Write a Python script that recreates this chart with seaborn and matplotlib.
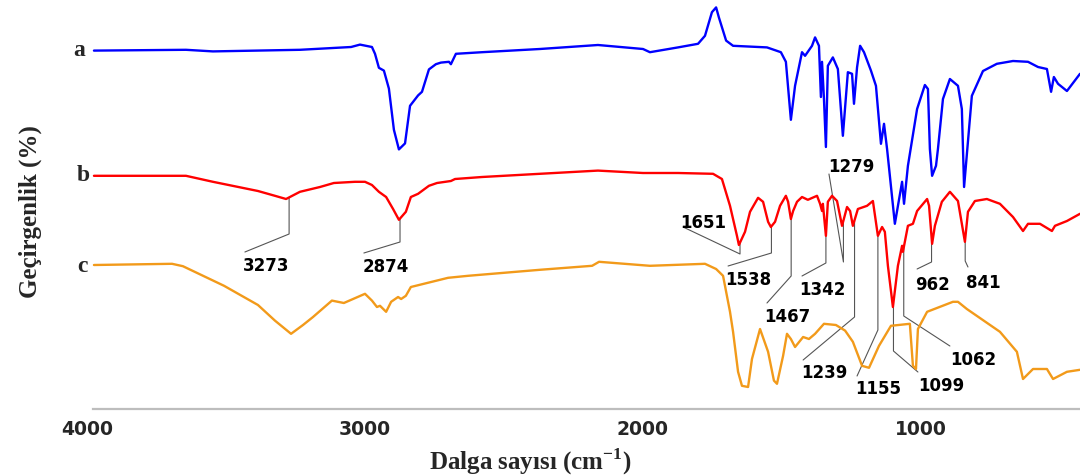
import numpy as np
import pandas as pd
import matplotlib
matplotlib.use("Agg")
import matplotlib.pyplot as plt
import seaborn as sns

# ---------------- data ----------------
wn_a = [3975, 3644, 3547, 3234, 3050, 3018, 2975, 2964, 2950, 2932, 2914, 2896, 2878, 2856, 2838,
        2809, 2795, 2770, 2745, 2727, 2698, 2691, 2673, 2579, 2371, 2162, 2000, 1975, 1874, 1802,
        1777, 1752, 1737, 1727, 1701, 1676, 1554, 1504, 1486, 1468, 1453, 1428, 1417, 1392, 1381,
        1367, 1360, 1356, 1349, 1342, 1335, 1317, 1299, 1281, 1263, 1248, 1241, 1230, 1219, 1205,
        1180, 1162, 1144, 1133, 1122, 1094, 1068, 1061, 1047, 1014, 986, 975, 968, 960, 946,
        939, 921, 896, 867, 853, 845, 817, 777, 727, 669, 615, 579, 547, 532, 522, 507, 475, 428]
t_a = [89.6, 89.8, 89.4, 89.8, 90.5, 91.1, 90.5, 88.8, 85.3, 84.6, 80.1, 69.8, 64.9, 66.4, 75.8,
       78.4, 79.3, 84.9, 86.2, 86.6, 86.8, 86.2, 88.8, 89.2, 90.0, 91.0, 90.0, 89.2, 90.4, 91.3,
       93.3, 99.2, 100.4, 97.9, 92.1, 90.8, 90.4, 89.2, 86.8, 72.3, 80.8, 89.2, 88.3, 90.8, 92.9,
       90.8, 78.0, 86.8, 77.5, 65.5, 85.8, 87.9, 85.0, 68.3, 84.2, 83.8, 76.3, 85.4, 90.8, 89.2,
       84.6, 80.8, 66.3, 71.3, 65.0, 46.3, 56.8, 51.3, 60.8, 75.0, 81.0, 80.0, 65.0, 58.3, 60.8,
       65.0, 77.5, 82.5, 80.8, 75.0, 55.5, 78.3, 84.5, 86.3, 87.0, 86.8, 85.5, 85.0, 79.3, 83.0,
       81.3, 79.5, 83.8]

wn_b = [3975, 3644, 3547, 3385, 3324, 3284, 3234, 3162, 3112, 3036, 3000, 2975, 2950, 2924, 2899,
        2878, 2853, 2835, 2809, 2770, 2741, 2691, 2676, 2579, 2371, 2162, 2000, 1874, 1748, 1716,
        1687, 1662, 1655, 1633, 1615, 1586, 1568, 1550, 1540, 1525, 1507, 1486, 1478, 1468, 1460,
        1446, 1428, 1407, 1374, 1363, 1356, 1353, 1342, 1335, 1320, 1302, 1284, 1266, 1255, 1245,
        1227, 1194, 1173, 1155, 1140, 1130, 1119, 1101, 1083, 1068, 1065, 1047, 1029, 1014, 978,
        971, 960, 950, 925, 896, 867, 842, 831, 806, 763, 716, 669, 633, 615, 572, 529, 518, 475, 428]
t_b = [58.3, 58.3, 56.8, 54.5, 53.3, 52.5, 54.3, 55.5, 56.5, 56.8, 56.8, 56.0, 54.3, 53.0, 50.0,
       47.3, 49.3, 53.0, 53.8, 55.8, 56.5, 57.0, 57.5, 58.0, 58.8, 59.6, 59.0, 59.0, 58.8, 57.5,
       50.8, 43.3, 41.0, 44.3, 49.3, 52.8, 51.8, 46.8, 45.5, 46.8, 50.8, 53.3, 51.8, 47.5, 49.5,
       51.8, 53.0, 52.3, 53.3, 51.3, 49.5, 51.3, 43.3, 51.8, 53.3, 52.0, 45.8, 50.5, 49.5, 45.8,
       50.0, 50.8, 52.0, 43.3, 45.5, 44.3, 35.8, 25.5, 35.8, 40.8, 39.3, 45.8, 46.3, 49.5, 52.5,
       50.8, 41.3, 45.8, 51.8, 54.3, 52.0, 41.8, 49.3, 52.0, 52.5, 51.3, 48.0, 44.5, 46.3, 46.3,
       44.5, 45.8, 47.0, 48.8]

wn_c = [3975, 3694, 3655, 3507, 3385, 3324, 3266, 3223, 3187, 3119, 3076, 3000, 2975, 2957, 2946,
        2924, 2906, 2881, 2870, 2853, 2835, 2701, 2629, 2371, 2183, 2158, 1975, 1777, 1737, 1712,
        1687, 1676, 1658, 1644, 1622, 1608, 1579, 1550, 1529, 1518, 1496, 1482, 1468, 1453, 1424,
        1403, 1381, 1349, 1306, 1273, 1245, 1212, 1187, 1151, 1108, 1040, 1029, 1018, 1011, 978,
        885, 867, 835, 716, 655, 633, 597, 547, 525, 475, 428]
t_c = [36.0, 36.3, 35.7, 30.8, 26.0, 22.1, 18.8, 21.0, 23.0, 27.1, 26.5, 28.8, 27.1, 25.5, 25.8,
       24.3, 26.8, 28.0, 27.5, 28.3, 30.5, 32.8, 33.3, 34.8, 35.8, 36.8, 35.8, 36.3, 35.0, 33.3,
       24.3, 19.3, 9.3, 5.8, 5.5, 12.5, 20.0, 14.3, 7.1, 6.3, 13.3, 18.8, 17.5, 15.5, 18.0,
       17.5, 18.8, 21.3, 21.0, 19.6, 16.8, 10.8, 10.3, 15.8, 20.8, 21.3, 10.8, 10.0, 20.0, 24.3,
       26.8, 26.8, 25.0, 19.3, 14.3, 7.5, 10.0, 10.0, 7.5, 9.3, 9.8]

sample_names = ["a", "b", "c"]
peak_labels = [3273, 2874, 1651, 1538, 1467, 1342, 1279, 1239, 1155, 1099, 1062, 962, 841]
x_ticks = [4000, 3000, 2000, 1000]
x_tick_labels = ["4000", "3000", "2000", "1000"]
x_label = r"Dalga sayısı (cm$^{\mathbf{-1}}$)"
y_label = "Geçirgenlik (%)"

# ---------------- layout / style ----------------
colors = {"a": "#0000FF", "b": "#FF0000", "c": "#F29A1A"}
# leader geometry per peak: knee y, end (x, y), text (x, y)
leader_layout = {
    3273: (43.75, 3432, 39.25, 3356, 36.0),
    2874: (41.75, 3004, 39.0, 2925, 35.75),
    1651: (38.75, 1856, 45.5, 1784, 46.75),
    1538: (39.0, 1694, 35.75, 1622, 32.5),
    1467: (33.25, 1554, 26.5, 1482, 23.25),
    1342: (36.5, 1428, 33.25, 1353, 30.0),
    1279: (36.75, 1331, 58.75, 1252, 60.75),
    1239: (23.0, 1424, 12.25, 1349, 9.25),
    1155: (19.75, 1230, 8.25, 1155, 5.25),
    1099: (14.5, 1011, 9.25, 928, 6.0),
    1062: (23.25, 896, 15.75, 813, 12.5),
    962: (36.75, 1014, 35.0, 960, 31.25),
    841: (37.0, 831, 35.5, 777, 31.75),
}
name_pos = {"a": (4029, 89.75), "b": (4014, 58.5), "c": (4018, 36.0)}

sns.set_style("white")
plt.rcParams["mathtext.fontset"] = "custom"
plt.rcParams["mathtext.rm"] = "Liberation Serif:bold"
plt.rcParams["mathtext.bf"] = "Liberation Serif:bold"

df = pd.concat([
    pd.DataFrame({"wavenumber": wn_a, "T": t_a, "sample": "a"}),
    pd.DataFrame({"wavenumber": wn_b, "T": t_b, "sample": "b"}),
    pd.DataFrame({"wavenumber": wn_c, "T": t_c, "sample": "c"}),
], ignore_index=True)

fig = plt.figure(figsize=(10.8, 4.77), dpi=100)
ax = fig.add_axes([87 / 1080, 67 / 477, 993 / 1080, 410 / 477])

sns.lineplot(data=df, x="wavenumber", y="T", hue="sample", palette=colors,
             estimator=None, sort=False, legend=False, linewidth=1.7, ax=ax, zorder=3)

ax.set_xlim(4000, 428)
ax.set_ylim(0, 102.5)

# peak annotations on curve b
wb = np.array(wn_b)[::-1]
tb = np.array(t_b)[::-1]
for p in peak_labels:
    ky, ex, ey, tx, ty = leader_layout[p]
    y0 = np.interp(p, wb, tb)
    ax.plot([p, p, ex], [y0, ky, ey], color="#555555", lw=0.8, zorder=2)
    ax.text(tx, ty, str(p), ha="center", va="center", fontsize=12,
            fontweight="bold", family="DejaVu Sans", color="black")

for n in sample_names:
    x, y = name_pos[n]
    ax.text(x, y, n, ha="center", va="center", fontsize=17, fontweight="bold",
            family="Liberation Serif", clip_on=False)

# axes styling
for s in ["left", "right", "top"]:
    ax.spines[s].set_visible(False)
ax.spines["bottom"].set_color("#bdbdbd")
ax.spines["bottom"].set_linewidth(1.6)
ax.spines["bottom"].set_bounds(3978, 428)
ax.set_yticks([])
ax.set_xticks(x_ticks)
ax.set_xticklabels(x_tick_labels)
ax.set_xticks(np.arange(3800, 428, -200), minor=True)
ax.tick_params(axis="x", which="major", length=0, pad=7)
ax.tick_params(axis="x", which="minor", length=4, width=0.9, direction="inout", color="#444444")
for lab in ax.get_xticklabels():
    lab.set_fontfamily("DejaVu Sans")
    lab.set_fontweight("bold")
    lab.set_fontsize(13.5)

ax.set_xlabel(x_label, fontsize=18, fontweight="bold", family="Liberation Serif")
ax.xaxis.set_label_coords((530 - 87) / 993, (410 - 462) / 410)
ax.xaxis.label.set_va("center")
ax.set_ylabel(y_label, fontsize=18, fontweight="bold", family="Liberation Serif")
ax.yaxis.set_label_coords((30 - 87) / 993, (410 - 212) / 410)
ax.yaxis.label.set_va("center")

fig.savefig("out.png", dpi=100)
